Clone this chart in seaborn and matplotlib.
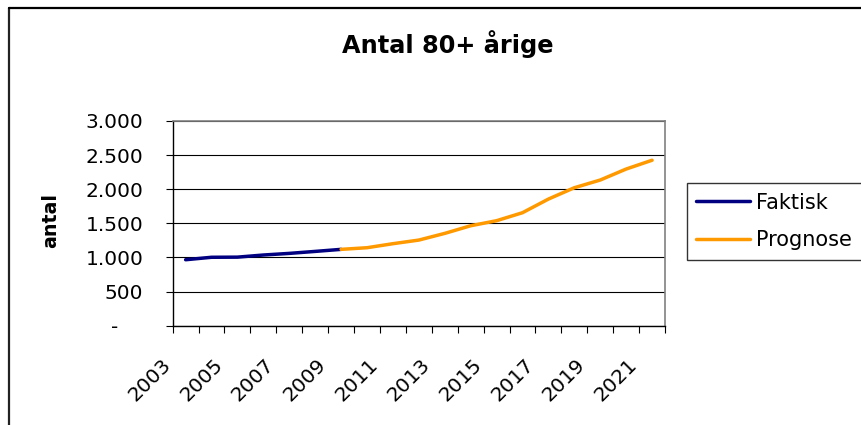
"""
Antal 80+ årige: faktisk udvikling og prognose.
"""

import matplotlib
matplotlib.use("Agg")
import matplotlib.pyplot as plt
import seaborn as sns
import pandas as pd
from matplotlib.lines import Line2D

# data
years = list(range(2003, 2022))
faktisk_years = [2003, 2004, 2005, 2006, 2007, 2008, 2009]
faktisk = [967, 1003, 1005, 1036, 1060, 1089, 1119]
prognose_years = [2009, 2010, 2011, 2012, 2013, 2014, 2015, 2016, 2017, 2018, 2019, 2020, 2021]
prognose = [1119, 1143, 1202, 1255, 1353, 1465, 1539, 1656, 1856, 2022, 2135, 2296, 2425]
y_ticks = [0, 500, 1000, 1500, 2000, 2500, 3000]
y_labels = ["-    ", "500", "1.000", "1.500", "2.000", "2.500", "3.000"]
label_years = years[::2]

df = pd.concat([
    pd.DataFrame({"år": faktisk_years, "antal": faktisk, "serie": "Faktisk"}),
    pd.DataFrame({"år": prognose_years, "antal": prognose, "serie": "Prognose"}),
])

sns.set_style("white")
plt.rcParams["font.family"] = ["DejaVu Sans"]
plt.rcParams["text.color"] = "black"
plt.rcParams["xtick.color"] = "black"
plt.rcParams["ytick.color"] = "black"

fig = plt.figure(figsize=(8.62, 4.25), dpi=100)
ax = fig.add_axes([0.2003, 0.2336, 0.5712, 0.4817])

sns.lineplot(data=df, x="år", y="antal", hue="serie",
             palette={"Faktisk": "#000080", "Prognose": "#FF9900"},
             linewidth=2.5, ax=ax, legend=False)

ax.set_xlim(years[0] - 0.5, years[-1] + 0.5)
ax.set_ylim(0, 3000)

# y-akse
ax.set_yticks(y_ticks)
ax.set_yticklabels(y_labels, fontsize=14.5, color="black")
ax.yaxis.grid(True, color="black", linewidth=0.8)
ax.tick_params(axis="y", length=5, width=0.8, colors="black", pad=16, left=True)

# x-akse: streger mellem kategorier, etiketter for hvert andet år
ax.set_xticks([y - 0.5 for y in years] + [years[-1] + 0.5])
ax.set_xticklabels([])
ax.tick_params(axis="x", which="major", length=5, width=0.8, colors="black", bottom=True)
ax.set_xticks([y - 0.43 for y in label_years], minor=True)
ax.set_xticklabels([str(y) for y in label_years], minor=True, fontsize=14.5,
                   rotation=45, ha="right", va="top", color="black")
ax.tick_params(axis="x", which="minor", length=0, pad=21)

for side in ["top", "right"]:
    ax.spines[side].set_visible(True)
    ax.spines[side].set_color("#808080")
    ax.spines[side].set_linewidth(1.2)
for side in ["left", "bottom"]:
    ax.spines[side].set_color("black")
    ax.spines[side].set_linewidth(1.0)

ax.set_xlabel("")
ax.set_ylabel("")
fig.text(0.059, 0.482, "antal", rotation=90, fontsize=13.7, fontweight="bold",
         ha="center", va="center", color="black")
fig.text(0.52, 0.897, "Antal 80+ årige", fontsize=17.3, fontweight="bold",
         ha="center", va="center", color="black")

# legende
handles = [Line2D([], [], color="#000080", linewidth=2.5),
           Line2D([], [], color="#FF9900", linewidth=2.5)]
fig.legend(handles, ["Faktisk", "Prognose"], loc="upper left",
           bbox_to_anchor=(0.7965, 0.569), fontsize=15, frameon=True,
           fancybox=False, edgecolor="black", handlelength=2.6,
           handletextpad=0.3, borderpad=0.45, labelspacing=0.85,
           borderaxespad=0, labelcolor="black")

# ramme om diagrammet
fig.add_artist(Line2D([0.0105, 0.0105], [0, 0.981], color="#222222", linewidth=1.6))
fig.add_artist(Line2D([0.0105, 1.0], [0.981, 0.981], color="black", linewidth=1.6))

fig.savefig("out.png", dpi=100)
